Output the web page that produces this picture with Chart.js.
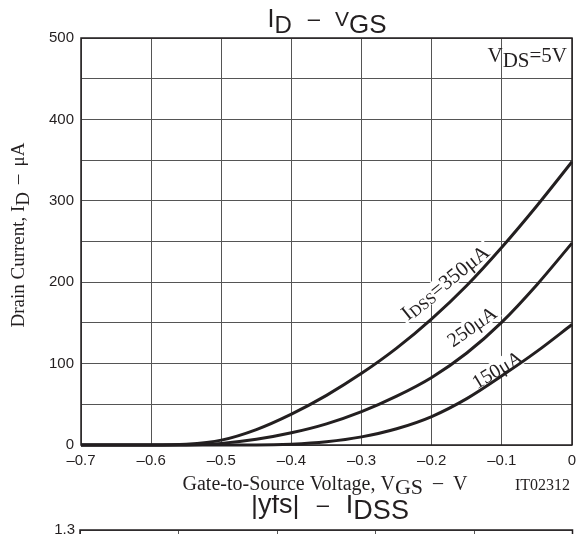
<!DOCTYPE html>
<html>
<head>
<meta charset="utf-8">
<script src="https://cdn.jsdelivr.net/npm/chart.js@4"></script>
<style>
  html, body { margin: 0; padding: 0; width: 577px; height: 534px; overflow: hidden; background: #fff; }
  #c1 { position: absolute; left: 0; top: 0; }
  #c2 { position: absolute; left: 0; top: 495px; }
</style>
</head>
<body>
<canvas id="c1" width="577" height="500"></canvas>
<canvas id="c2" width="577" height="240"></canvas>
<script>
// ID - VGS
const vgs   = [-0.7, -0.65, -0.6, -0.55, -0.5, -0.45, -0.4, -0.35, -0.3, -0.25, -0.2, -0.15, -0.1, -0.05, 0];
const id350 = [0, 0, 0, 1, 6, 19, 38, 61, 88, 119, 155, 196, 243, 294, 348];
const id250 = [0, 0, 0, 0, 2, 7, 15, 26, 41, 60, 83, 113, 151, 197, 248];
const id150 = [0, 0, 0, 0, 0, 0, 1, 4, 10, 20, 35, 57, 85, 115, 148];
const xTicks = [-0.7, -0.6, -0.5, -0.4, -0.3, -0.2, -0.1, 0];
const yTicks = [0, 100, 200, 300, 400, 500];
const curveLabels = ['=350\u03bcA', '250\u03bcA', '150\u03bcA'];

const SANS = '"Liberation Sans", Arial, sans-serif';
const SERIF = '"Liberation Serif", "Times New Roman", serif';
const INK = '#231f20';

// draw a run of text pieces: [text, size, dy, family, gapBefore]
function rich(ctx, parts, x, y, align, measureOnly) {
  const widths = parts.map(p => {
    ctx.font = p[1] + 'px ' + p[3];
    return ctx.measureText(p[0]).width + (p[4] || 0);
  });
  const total = widths.reduce((a, b) => a + b, 0);
  if (measureOnly) return total;
  let cx = align === 'center' ? x - total / 2 : align === 'right' ? x - total : x;
  ctx.textAlign = 'left';
  ctx.textBaseline = 'alphabetic';
  parts.forEach((p, i) => {
    ctx.font = p[1] + 'px ' + p[3];
    ctx.fillText(p[0], cx + (p[4] || 0), y + p[2]);
    cx += widths[i];
  });
  return total;
}

const pts = arr => vgs.map((v, i) => ({ x: v, y: arr[i] }));

const curve = (arr) => ({
  data: pts(arr),
  borderColor: INK,
  borderWidth: 3,
  pointRadius: 0,
  cubicInterpolationMode: 'monotone',
  fill: false,
  clip: 4
});

const labelsPlugin = {
  id: 'labels1',
  beforeDatasetsDraw(chart) {
    const ctx = chart.ctx;
    const xs = chart.scales.x, ys = chart.scales.y;
    const spots = [
      { x: -0.181, y: 200, a: -38.8, parts: [['I', 21, 0, SERIF], ['DSS', 16, 2, SERIF], [curveLabels[0], 21, 0, SERIF]] },
      { x: -0.143, y: 146, a: -35, parts: [[curveLabels[1], 20, 0, SERIF]] },
      { x: -0.107, y: 93, a: -31, parts: [[curveLabels[2], 20, 0, SERIF]] }
    ];
    ctx.save();
    spots.forEach(s => {
      ctx.save();
      ctx.translate(xs.getPixelForValue(s.x), ys.getPixelForValue(s.y));
      ctx.rotate(s.a * Math.PI / 180);
      const w = rich(ctx, s.parts, 0, 0, 'center', true);
      ctx.fillStyle = '#fff';
      ctx.fillRect(-w / 2 - 3, -9, w + 6, 18);
      ctx.fillStyle = INK;
      rich(ctx, s.parts, 0, 7, 'center');
      ctx.restore();
    });
    ctx.restore();
  },
  afterDraw(chart) {
    const ctx = chart.ctx;
    const a = chart.chartArea;
    ctx.save();
    ctx.strokeStyle = INK;
    ctx.lineWidth = 1.5;
    ctx.strokeRect(a.left, a.top, a.right - a.left, a.bottom - a.top);
    ctx.fillStyle = INK;
    // title
    rich(ctx, [['I', 25, 0, SANS], ['D', 24, 6, SANS], ['\u2013', 22, -1, SANS, 16], ['V', 21, -1, SANS, 15], ['GS', 26, 6, SANS]], 327, 27, 'center');
    // V_DS = 5V
    rich(ctx, [['V', 21, 0, SERIF], ['DS', 21, 5, SERIF], ['=5V', 21, 0, SERIF]], 567, 62, 'right');
    // x title
    rich(ctx, [['Gate-to-Source Voltage, V', 20, 0, SERIF], ['GS', 22, 4, SERIF], ['\u2013', 20, -1, SERIF, 10], ['V', 20, 0, SERIF, 10]], 325, 490, 'center');
    ctx.font = '16px ' + SERIF;
    ctx.textAlign = 'right';
    ctx.fillText('IT02312', 570, 490);
    // y title
    ctx.translate(24, 235);
    ctx.rotate(-Math.PI / 2);
    rich(ctx, [['Drain Current, I', 19, 0, SERIF], ['D', 19, 5, SERIF], ['\u2013', 19, -1, SERIF, 8], ['\u03bcA', 19, 0, SERIF, 8]], 0, 0, 'center');
    ctx.restore();
  }
};

new Chart(document.getElementById('c1'), {
  type: 'line',
  data: { datasets: [curve(id350), curve(id250), curve(id150)] },
  options: {
    responsive: false,
    devicePixelRatio: 1,
    animation: false,
    layout: { padding: { top: 38, right: 5, left: 0, bottom: 0 } },
    plugins: { legend: { display: false }, tooltip: { enabled: false } },
    scales: {
      x: {
        type: 'linear', min: -0.7, max: 0,
        afterFit: s => { s.height = 55; s.paddingRight = 0; s.paddingLeft = 0; },
        afterBuildTicks: s => { s.ticks = xTicks.map(v => ({ value: v })); },
        grid: { color: '#555', lineWidth: 1, drawTicks: false },
        border: { display: false },
        ticks: {
          autoSkip: false, maxRotation: 0, padding: 7, color: INK,
          font: { family: SANS, size: 15 },
          callback: v => v === 0 ? '0' : '\u2013' + Math.abs(v).toFixed(1)
        }
      },
      y: {
        min: 0, max: 500,
        afterFit: s => { s.width = 81; },
        grid: { color: '#555', lineWidth: 1, drawTicks: false },
        border: { display: false },
        ticks: {
          stepSize: 50, autoSkip: false, padding: 7, color: INK,
          font: { family: SANS, size: 15 },
          callback: v => yTicks.includes(v) ? String(v) : ''
        }
      }
    }
  },
  plugins: [labelsPlugin]
});

// next graph on the sheet, only its top edge shows
const yfsTicks = [0.3, 0.5, 0.7, 0.9, 1.1, 1.3];
const idssTicks = [0, 100, 200, 300, 400, 500];

new Chart(document.getElementById('c2'), {
  type: 'line',
  data: { datasets: [] },
  options: {
    responsive: false,
    devicePixelRatio: 1,
    animation: false,
    layout: { padding: { top: 35, right: 4.5, left: 0, bottom: 0 } },
    plugins: { legend: { display: false }, tooltip: { enabled: false } },
    scales: {
      x: {
        type: 'linear', min: 0, max: 500,
        afterFit: s => { s.height = 40; },
        afterBuildTicks: s => { s.ticks = idssTicks.map(v => ({ value: v })); },
        grid: { color: '#555', lineWidth: 1, drawTicks: false },
        border: { display: false },
        ticks: { display: false }
      },
      y: {
        min: 0.3, max: 1.3,
        afterFit: s => { s.width = 80; },
        afterBuildTicks: s => { s.ticks = yfsTicks.map(v => ({ value: v })); },
        grid: { color: '#555', lineWidth: 1, drawTicks: false },
        border: { display: false },
        ticks: { padding: 5, color: INK, font: { family: SANS, size: 15 }, callback: v => v.toFixed(1) }
      }
    }
  },
  plugins: [{
    id: 'top2',
    afterDraw(chart) {
      const ctx = chart.ctx;
      const a = chart.chartArea;
      ctx.save();
      ctx.strokeStyle = INK;
      ctx.lineWidth = 1.5;
      ctx.strokeRect(a.left, a.top, a.right - a.left, a.bottom - a.top);
      ctx.fillStyle = INK;
      rich(ctx, [['|yfs|', 27, 0, SANS], ['\u2013', 22, -1, SANS, 17], ['I', 27, 0, SANS, 17], ['DSS', 27, 6, SANS]], 330, 18, 'center');
      ctx.restore();
    }
  }]
});
</script>
</body>
</html>
